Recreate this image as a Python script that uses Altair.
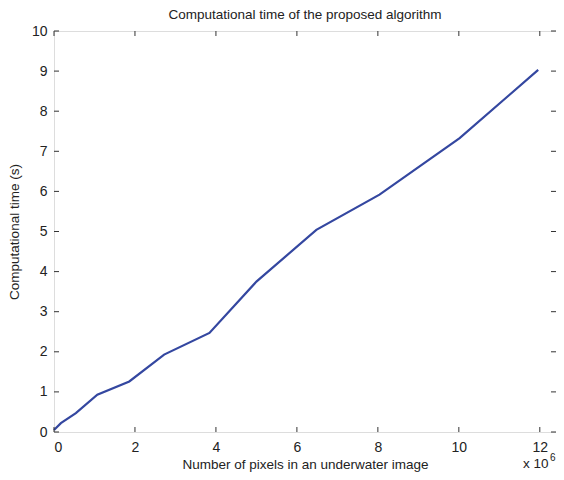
import altair as alt
import pandas as pd

pixels_millions = [0.0, 0.17, 0.54, 1.07, 1.86, 2.72, 3.84, 5.0, 6.48, 8.04, 10.02, 11.96]
time_s = [0.05, 0.22, 0.47, 0.93, 1.26, 1.93, 2.47, 3.75, 5.04, 5.92, 7.33, 9.03]
x_ticks = [0, 2, 4, 6, 8, 10, 12]
y_ticks = [0, 1, 2, 3, 4, 5, 6, 7, 8, 9, 10]

df = pd.DataFrame({"x": pixels_millions, "y": time_s})
xt = pd.DataFrame({"x": x_ticks})
yt = pd.DataFrame({"y": y_ticks})

W, H = 502, 401
FONT = "Liberation Sans"
TXT = "#222222"
XMAX = 12.4

xscale = alt.Scale(domain=[0, XMAX], nice=False, zero=False)
yscale = alt.Scale(domain=[0, 10], nice=False)

line = alt.Chart(df).mark_line(color="#3447a0", strokeWidth=2.2).encode(
    x=alt.X("x:Q", scale=xscale,
            axis=alt.Axis(values=x_ticks, title="Number of pixels in an underwater image",
                          domain=False, ticks=False, grid=False, labelFontSize=14,
                          labelPadding=8, titleFontSize=13.5, titlePadding=3,
                          labelFont=FONT, titleFont=FONT, labelColor=TXT, titleColor=TXT,
                          titleFontWeight="normal")),
    y=alt.Y("y:Q", scale=yscale,
            axis=alt.Axis(values=y_ticks, title="Computational time (s)",
                          domain=False, ticks=False, grid=False, labelFontSize=14,
                          labelPadding=7, titleFontSize=13.5, titlePadding=10,
                          labelFont=FONT, titleFont=FONT, labelColor=TXT, titleColor=TXT,
                          titleFontWeight="normal")),
)

TL = 5
tick_color = "#333333"
bottom_ticks = alt.Chart(xt).mark_rule(color=tick_color, strokeWidth=1).encode(
    x=alt.X("x:Q", scale=xscale), y=alt.value(H), y2=alt.value(H - TL))
top_ticks = alt.Chart(xt).mark_rule(color=tick_color, strokeWidth=1).encode(
    x=alt.X("x:Q", scale=xscale), y=alt.value(0), y2=alt.value(TL))
left_ticks = alt.Chart(yt).mark_rule(color=tick_color, strokeWidth=1).encode(
    y=alt.Y("y:Q", scale=yscale), x=alt.value(0), x2=alt.value(TL))
right_ticks = alt.Chart(yt).mark_rule(color=tick_color, strokeWidth=1).encode(
    y=alt.Y("y:Q", scale=yscale), x=alt.value(W), x2=alt.value(W - TL))

exp_base = alt.Chart(pd.DataFrame({"t": ["x 10"]})).mark_text(
    font=FONT, fontSize=13.5, color=TXT, align="left", baseline="alphabetic").encode(
    text="t:N", x=alt.value(W - 33), y=alt.value(H + 36))
exp_sup = alt.Chart(pd.DataFrame({"t": ["6"]})).mark_text(
    font=FONT, fontSize=10, color=TXT, align="left", baseline="alphabetic").encode(
    text="t:N", x=alt.value(W - 6), y=alt.value(H + 29))

chart = alt.layer(line, bottom_ticks, top_ticks, left_ticks, right_ticks, exp_base, exp_sup).properties(
    width=W, height=H,
    title=alt.TitleParams("Computational time of the proposed algorithm", fontSize=13.5,
                          font=FONT, color=TXT, fontWeight="normal", anchor="middle", offset=3),
    autosize=alt.AutoSizeParams(type="none"),
    padding={"left": 46, "top": 23, "right": 0, "bottom": 40},
).configure_view(stroke="#333333", strokeWidth=1).configure(background="white")

chart.save("out.html", embed_options={"renderer": "svg", "actions": False})
